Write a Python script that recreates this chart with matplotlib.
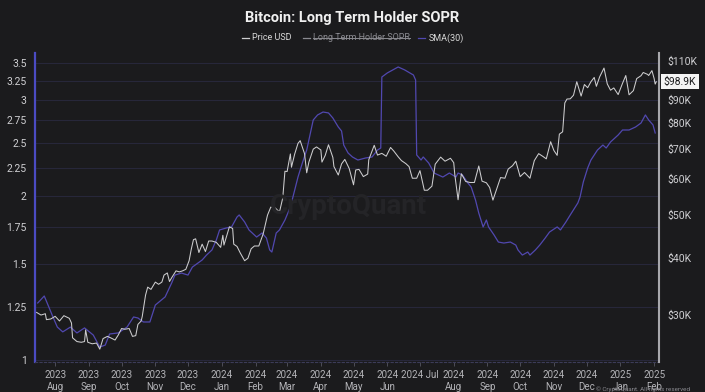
import matplotlib
matplotlib.use("Agg")
import matplotlib.pyplot as plt
from matplotlib.lines import Line2D
from matplotlib.ticker import FixedLocator, NullLocator, FixedFormatter
import pandas as pd

plt.rcParams["font.family"] = ["Roboto", "DejaVu Sans"]

BG = "#1b1b1d"
PRICE_C = "#cdcdcf"
SMA_C = "#5148b0"

# BTC price (USD, thousands)
price_dates = [
    "2023-07-15", "2023-07-19", "2023-07-23", "2023-07-24", "2023-07-28", "2023-08-01",
    "2023-08-05", "2023-08-09", "2023-08-14", "2023-08-16", "2023-08-17", "2023-08-21",
    "2023-08-25", "2023-08-28", "2023-08-29", "2023-08-31", "2023-09-04", "2023-09-08",
    "2023-09-11", "2023-09-14", "2023-09-18", "2023-09-21", "2023-09-25", "2023-09-28",
    "2023-10-01", "2023-10-04", "2023-10-08", "2023-10-11", "2023-10-14", "2023-10-16",
    "2023-10-19", "2023-10-20", "2023-10-23", "2023-10-25", "2023-10-28", "2023-11-01",
    "2023-11-04", "2023-11-07", "2023-11-09", "2023-11-12", "2023-11-14", "2023-11-16",
    "2023-11-20", "2023-11-23", "2023-11-26", "2023-11-29", "2023-12-02", "2023-12-04",
    "2023-12-06", "2023-12-08", "2023-12-11", "2023-12-14", "2023-12-17", "2023-12-20",
    "2023-12-23", "2023-12-27", "2023-12-31", "2024-01-02", "2024-01-03", "2024-01-08",
    "2024-01-11", "2024-01-12", "2024-01-15", "2024-01-18", "2024-01-22", "2024-01-25",
    "2024-01-28", "2024-01-31", "2024-02-04", "2024-02-08", "2024-02-12", "2024-02-15",
    "2024-02-19", "2024-02-23", "2024-02-26", "2024-02-28", "2024-03-01", "2024-03-04",
    "2024-03-05", "2024-03-08", "2024-03-11", "2024-03-13", "2024-03-17", "2024-03-19",
    "2024-03-21", "2024-03-25", "2024-03-28", "2024-04-01", "2024-04-02", "2024-04-05",
    "2024-04-08", "2024-04-12", "2024-04-13", "2024-04-17", "2024-04-20", "2024-04-23",
    "2024-04-27", "2024-05-01", "2024-05-03", "2024-05-06", "2024-05-10", "2024-05-14",
    "2024-05-15", "2024-05-20", "2024-05-23", "2024-05-27", "2024-05-31", "2024-06-04",
    "2024-06-07", "2024-06-11", "2024-06-14", "2024-06-18", "2024-06-21", "2024-06-24",
    "2024-06-28", "2024-07-01", "2024-07-05", "2024-07-08", "2024-07-12", "2024-07-15",
    "2024-07-20", "2024-07-24", "2024-07-29", "2024-08-01", "2024-08-02", "2024-08-05",
    "2024-08-08", "2024-08-12", "2024-08-16", "2024-08-20", "2024-08-24", "2024-08-27",
    "2024-08-31", "2024-09-03", "2024-09-06", "2024-09-10", "2024-09-13", "2024-09-17",
    "2024-09-20", "2024-09-24", "2024-09-27", "2024-10-01", "2024-10-05", "2024-10-10",
    "2024-10-14", "2024-10-18", "2024-10-22", "2024-10-25", "2024-10-29", "2024-11-01",
    "2024-11-04", "2024-11-06", "2024-11-09", "2024-11-11", "2024-11-13", "2024-11-16",
    "2024-11-19", "2024-11-22", "2024-11-26", "2024-11-29", "2024-12-02", "2024-12-05",
    "2024-12-08", "2024-12-10", "2024-12-13", "2024-12-17", "2024-12-20", "2024-12-23",
    "2024-12-26", "2024-12-30", "2025-01-03", "2025-01-06", "2025-01-09", "2025-01-13",
    "2025-01-16", "2025-01-20", "2025-01-22", "2025-01-26", "2025-01-27", "2025-01-30",
    "2025-02-01", "2025-02-02", "2025-02-03",
]
price_k = [
    30.3, 29.9, 30.1, 29.2, 29.3, 29.7,
    29.0, 29.8, 29.4, 28.7, 26.6, 26.1,
    26.0, 26.1, 27.7, 26.0, 25.8, 25.9,
    25.1, 26.5, 26.8, 26.6, 26.3, 27.0,
    27.9, 27.8, 27.9, 26.8, 26.9, 28.5,
    29.0, 29.7, 33.1, 34.5, 34.1, 35.4,
    35.0, 35.4, 36.7, 37.1, 35.5, 36.2,
    37.5, 37.3, 37.5, 37.8, 39.5, 41.9,
    44.0, 44.2, 41.2, 43.0, 41.4, 43.7,
    43.7, 43.4, 42.3, 45.0, 42.8, 47.0,
    46.6, 43.0, 42.5, 41.1, 39.5, 40.0,
    42.0, 42.6, 42.6, 45.3, 49.9, 52.0,
    51.8, 50.7, 54.5, 62.5, 62.4, 68.3,
    63.8, 68.3, 72.1, 73.1, 68.4, 62.0,
    65.5, 70.0, 70.8, 69.7, 65.5, 67.8,
    71.6, 67.1, 64.0, 61.3, 64.9, 66.4,
    63.4, 58.3, 62.9, 63.1, 60.8, 61.6,
    66.3, 71.4, 67.9, 68.5, 67.5, 70.6,
    69.3, 67.3, 66.0, 65.0, 64.0, 60.3,
    60.3, 62.7, 56.7, 56.7, 57.9, 64.8,
    67.2, 65.8, 66.8, 65.3, 61.4, 54.0,
    61.7, 59.3, 59.0, 59.0, 64.2, 59.4,
    58.9, 57.5, 53.9, 57.6, 60.5, 60.3,
    63.2, 64.3, 65.8, 60.8, 62.1, 60.3,
    66.0, 68.4, 67.4, 66.6, 72.7, 69.5,
    67.8, 75.6, 76.5, 88.7, 90.5, 90.6,
    92.3, 98.9, 91.9, 97.5, 95.9, 98.9,
    101.1, 96.6, 101.4, 106.1, 97.8, 94.7,
    95.8, 92.6, 98.1, 102.1, 92.5, 94.5,
    100.5, 102.0, 103.7, 102.7, 102.1, 104.7,
    100.6, 97.7, 98.9,
]

# Long Term Holder SOPR, SMA(30)
sma_dates = [
    "2023-07-16", "2023-07-22", "2023-07-30", "2023-08-03", "2023-08-08", "2023-08-15",
    "2023-08-21", "2023-08-28", "2023-09-05", "2023-09-11", "2023-09-16", "2023-09-20",
    "2023-09-28", "2023-10-06", "2023-10-12", "2023-10-16", "2023-10-21", "2023-10-27",
    "2023-11-01", "2023-11-10", "2023-11-16", "2023-11-19", "2023-11-25", "2023-12-01",
    "2023-12-05", "2023-12-14", "2023-12-18", "2023-12-23", "2023-12-27", "2023-12-30",
    "2024-01-05", "2024-01-10", "2024-01-15", "2024-01-17", "2024-01-22", "2024-01-26",
    "2024-02-02", "2024-02-07", "2024-02-11", "2024-02-14", "2024-02-16", "2024-02-20",
    "2024-02-23", "2024-02-28", "2024-03-04", "2024-03-08", "2024-03-11", "2024-03-15",
    "2024-03-19", "2024-03-22", "2024-03-25", "2024-03-29", "2024-04-03", "2024-04-08",
    "2024-04-12", "2024-04-17", "2024-04-20", "2024-04-22", "2024-04-26", "2024-04-30",
    "2024-05-05", "2024-05-12", "2024-05-18", "2024-05-23", "2024-05-26", "2024-05-27",
    "2024-06-01", "2024-06-11", "2024-06-17", "2024-06-25", "2024-06-27", "2024-06-28",
    "2024-07-02", "2024-07-04", "2024-07-09", "2024-07-14", "2024-07-22", "2024-07-28",
    "2024-08-03", "2024-08-05", "2024-08-09", "2024-08-14", "2024-08-17", "2024-08-21",
    "2024-08-24", "2024-08-28", "2024-08-31", "2024-09-02", "2024-09-07", "2024-09-11",
    "2024-09-16", "2024-09-22", "2024-09-27", "2024-09-29", "2024-10-03", "2024-10-08",
    "2024-10-10", "2024-10-15", "2024-10-19", "2024-10-24", "2024-10-28", "2024-11-04",
    "2024-11-07", "2024-11-12", "2024-11-16", "2024-11-23", "2024-11-25", "2024-11-28",
    "2024-12-02", "2024-12-05", "2024-12-11", "2024-12-16", "2024-12-19", "2024-12-23",
    "2024-12-30", "2025-01-03", "2025-01-09", "2025-01-15", "2025-01-20", "2025-01-24",
    "2025-01-27", "2025-01-31", "2025-02-02",
]
sma_vals = [
    1.272, 1.310, 1.199, 1.149, 1.126, 1.149,
    1.121, 1.145, 1.111, 1.056, 1.065, 1.116,
    1.121, 1.149, 1.199, 1.194, 1.174, 1.174,
    1.261, 1.305, 1.384, 1.431, 1.443, 1.431,
    1.480, 1.525, 1.557, 1.591, 1.659, 1.731,
    1.745, 1.753, 1.828, 1.844, 1.790, 1.731,
    1.680, 1.709, 1.673, 1.591, 1.577, 1.709,
    1.731, 1.805, 1.907, 2.049, 2.164, 2.296,
    2.425, 2.584, 2.753, 2.812, 2.847, 2.836,
    2.776, 2.673, 2.628, 2.477, 2.395, 2.355,
    2.325, 2.345, 2.355, 2.425, 2.446, 3.300,
    3.357, 3.443, 3.400, 3.328, 3.259, 2.375,
    2.325, 2.355, 2.296, 2.201, 2.164, 2.201,
    2.164, 2.201, 2.183, 2.110, 2.075, 1.964,
    1.859, 1.753, 1.805, 1.753, 1.695, 1.645,
    1.638, 1.645, 1.624, 1.591, 1.557, 1.577,
    1.557, 1.591, 1.624, 1.673, 1.716, 1.753,
    1.731, 1.790, 1.844, 1.940, 1.989, 2.119,
    2.248, 2.325, 2.425, 2.477, 2.446, 2.509,
    2.584, 2.639, 2.639, 2.673, 2.718, 2.812,
    2.753, 2.696, 2.606,
]

sopr_ticks = [1, 1.25, 1.5, 1.75, 2, 2.25, 2.5, 2.75, 3, 3.25, 3.5]
sopr_labels = ["1", "1.25", "1.5", "1.75", "2", "2.25", "2.5", "2.75", "3", "3.25", "3.5"]
price_ticks = [30e3, 40e3, 50e3, 60e3, 70e3, 80e3, 90e3, 110e3]
price_labels = ["$30K", "$40K", "$50K", "$60K", "$70K", "$80K", "$90K", "$110K"]
last_label = "$98.9K"

W, H = 705, 392
fig = plt.figure(figsize=(W / 100, H / 100), dpi=100, facecolor=BG)


def fx(px):
    return px / W


def fy(py):
    return 1 - py / H


ax = fig.add_axes([fx(35), fy(362), fx(659) - fx(35), fy(53) - fy(362)])
ax.set_facecolor(BG)
ax2 = ax.twinx()

pd_dates = pd.to_datetime(price_dates)
sd = pd.to_datetime(sma_dates)

ax.plot(sd, sma_vals, color=SMA_C, lw=0.9, zorder=3)
ax2.plot(pd_dates, [p * 1000 for p in price_k], color=PRICE_C, lw=0.75, zorder=4)

ax.set_yscale("log")
ax2.set_yscale("log")
ax.set_ylim(0.9916, 3.652)
ax2.set_ylim(23.5e3, 114.6e3)
ax.set_xlim(pd.Timestamp("2023-07-13 12:00"), pd.Timestamp("2025-02-05 12:00"))

ax.yaxis.set_major_locator(FixedLocator(sopr_ticks))
ax.yaxis.set_major_formatter(FixedFormatter(sopr_labels))
ax.yaxis.set_minor_locator(NullLocator())
ax2.yaxis.set_major_locator(FixedLocator(price_ticks))
ax2.yaxis.set_major_formatter(FixedFormatter(price_labels))
ax2.yaxis.set_minor_locator(NullLocator())

months = pd.date_range("2023-08-01", "2025-02-01", freq="MS")
mlabels = []
for m in months:
    if m.year == 2024 and m.month == 7:
        mlabels.append("2024 Jul")
    else:
        mlabels.append(f"{m.year}\n{m.strftime('%b')}")
ax.set_xticks(months)
ax.set_xticklabels(mlabels)
ax.xaxis.set_minor_locator(NullLocator())

ax.tick_params(axis="x", colors="#555560", labelcolor="#b4b4b8", labelsize=7,
               length=3, width=0.6, pad=3)
for lab in ax.get_xticklabels():
    lab.set_linespacing(1.2)
ax.tick_params(axis="y", length=0, labelcolor="#cfcfd2", labelsize=7.5, pad=6)
ax2.tick_params(axis="y", length=0, labelcolor="#cfcfd2", labelsize=7.5, pad=6)

ax.grid(axis="y", color="#27273a", lw=0.8)
ax.grid(axis="x", visible=False)

for a in (ax, ax2):
    for s in a.spines.values():
        s.set_visible(False)
ax.spines["left"].set_visible(True)
ax.spines["left"].set_color("#4b4bc2")
ax.spines["left"].set_linewidth(1.6)
ax2.spines["right"].set_visible(True)
ax2.spines["right"].set_color("#a8a8ac")
ax2.spines["right"].set_linewidth(1.5)
ax.spines["bottom"].set_visible(True)
ax.spines["bottom"].set_color("#3c3c58")
ax.spines["bottom"].set_linestyle((0, (2, 2)))
ax.spines["bottom"].set_linewidth(0.8)

# last price box
ax2.annotate(last_label, xy=(1, price_k[-1] * 1000), xycoords=("axes fraction", "data"),
             xytext=(3.5, 0), textcoords="offset points", ha="left", va="center",
             fontsize=7.5, color="#1b1b1d", zorder=10,
             bbox=dict(boxstyle="square,pad=0.25", fc="#f4f4f4", ec="none"))

# title & legend
fig.text(0.5, fy(18), "Bitcoin: Long Term Holder SOPR", ha="center", va="center",
         fontsize=10.5, fontweight="bold", color="#f0f0f0")

leg_y = fy(38)
items = [(242, 252, "Price USD", PRICE_C, "#d8d8d8", False),
         (303, 313, "Long Term Holder SOPR", "#8a8a90", "#8a8a90", True),
         (418, 429, "SMA(30)", SMA_C, "#d8d8d8", False)]
fig.canvas.draw()
rend = fig.canvas.get_renderer()
for x0, tx, label, lc, tc, strike in items:
    fig.add_artist(Line2D([fx(x0), fx(x0 + 7)], [leg_y, leg_y], color=lc, lw=0.9,
                          transform=fig.transFigure))
    t = fig.text(fx(tx), leg_y, label, ha="left", va="center", fontsize=6.5, color=tc)
    if strike:
        bb = t.get_window_extent(renderer=rend).transformed(fig.transFigure.inverted())
        fig.add_artist(Line2D([bb.x0, bb.x1], [leg_y, leg_y], color=tc, lw=0.7,
                              transform=fig.transFigure))

# watermark
fig.text(fx(348), fy(207), "CryptoQuant", ha="center", va="center", fontsize=20,
         fontweight="bold", color="#242427", zorder=0)
fig.text(fx(690), fy(389), "\u00a9 CryptoQuant. All rights reserved", ha="right",
         va="center", fontsize=4.5, color="#8a8a90")

fig.savefig("out.png", dpi=100, facecolor=BG)
